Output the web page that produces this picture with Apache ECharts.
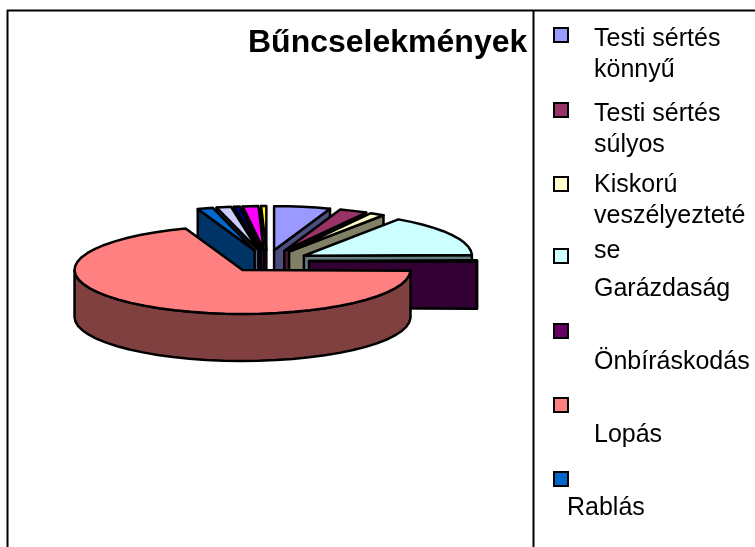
<!DOCTYPE html>
<html>
<head>
<meta charset="utf-8">
<style>html,body{margin:0;padding:0;background:#fff}#chart{width:755px;height:547px}</style>
<script src="https://cdn.jsdelivr.net/npm/echarts@6/dist/echarts.min.js"></script>
</head>
<body>
<div id="chart"></div>
<script>
// share of each slice in percent, clockwise from 12 o'clock
const categories = ['Testi sértés könnyű', 'Testi sértés súlyos', 'Kiskorú veszélyeztetése', 'Garázdaság',
  'Önbíráskodás', 'Lopás', 'Rablás', 'Egyéb 1', 'Egyéb 2', 'Egyéb 3', 'Egyéb 4'];
const values = [5.4, 2.7, 1.4, 15.2, 0.6, 69.2, 1.5, 1.4, 0.6, 1.5, 0.5];
const colors = ['#9999FF', '#993366', '#FFFFCC', '#CCFFFF', '#660066', '#FF8080', '#0066CC',
  '#CCCCFF', '#000080', '#FF00FF', '#FFFF00'];
// the last four slices fall off the bottom of the legend in the original
const legendLines = [['Testi sértés', 'könnyű'], ['Testi sértés', 'súlyos'], ['Kiskorú', 'veszélyezteté', 'se'],
  ['Garázdaság'], ['Önbíráskodás'], ['Lopás'], ['Rablás']];

// pie geometry
const CX = 267, CY = 261, RX = 168, RY = 44, DEPTH = 47, EXPLODE = 42;
const STEP = 6; // arc segment in degrees, the original is a coarse polygon too

// legend layout: marker top, baseline of each text line, text left
const legendMarkerTop = [27, 102, 176, 248, 323, 397, 471];
const legendBaseline = [[46, 77], [121, 152], [192, 223, 258], [296], [369], [442], [515]];
const legendTextLeft = [594, 594, 594, 594, 594, 594, 567];

const total = values.reduce((a, b) => a + b, 0);
let acc = 0;
const slices = values.map((v, i) => {
  const a0 = acc / total * 360;
  acc += v;
  return { i, a0, a1: acc / total * 360 };
});

function shade(hex) {
  const n = parseInt(hex.slice(1), 16);
  const c = [n >> 16, (n >> 8) & 255, n & 255].map(x => Math.round(x / 2));
  return `rgb(${c[0]},${c[1]},${c[2]})`;
}

function renderSlice(s) {
  const mid = (s.a0 + s.a1) / 2 * Math.PI / 180;
  const ox = CX + EXPLODE * Math.sin(mid);
  const oy = CY - EXPLODE * Math.cos(mid) * RY / RX;
  const pt = (deg, dz) => {
    const t = deg * Math.PI / 180;
    return [ox + RX * Math.sin(t), oy - RY * Math.cos(t) + dz];
  };
  const arc = (from, to, dz) => {
    const pts = [];
    const n = Math.max(1, Math.ceil((to - from) / STEP));
    for (let k = 0; k <= n; k++) pts.push(pt(from + (to - from) * k / n, dz));
    return pts;
  };
  const style = fill => ({ fill, stroke: '#000', lineWidth: 2.5, lineJoin: 'round' });
  const poly = (points, fill) => ({ type: 'polygon', shape: { points }, style: style(fill) });
  const top = colors[s.i], wall = shade(top);
  const apex = [ox, oy], apexLow = [ox, oy + DEPTH];
  const children = [];
  // cut faces, only the ones turned towards the viewer
  if (s.a0 > 180) {
    const p = pt(s.a0, 0);
    children.push(poly([apex, p, [p[0], p[1] + DEPTH], apexLow], wall));
  }
  if (s.a1 < 180) {
    const p = pt(s.a1, 0);
    children.push(poly([apex, p, [p[0], p[1] + DEPTH], apexLow], wall));
  }
  // rim: front half of the circle only
  const from = Math.max(s.a0, 90), to = Math.min(s.a1, 270);
  if (to > from) {
    const upper = arc(from, to, 0), lower = arc(from, to, DEPTH).reverse();
    children.push(poly(upper.concat(lower), wall));
  }
  children.push(poly([apex].concat(arc(s.a0, s.a1, 0)), top));
  return { type: 'group', children };
}

// back to front: the further a slice is from the viewer the earlier it is drawn
const drawOrder = slices.slice().sort((p, q) =>
  Math.abs((q.a0 + q.a1) / 2 - 180) - Math.abs((p.a0 + p.a1) / 2 - 180));

const series = drawOrder.map((s, order) => ({
  name: categories[s.i],
  type: 'custom',
  coordinateSystem: 'none',
  silent: true,
  z: 2 + order,
  itemStyle: { color: colors[s.i] },
  data: [values[s.i]],
  renderItem: () => renderSlice(s),
}));

const legends = legendLines.map((_, i) => ({
  left: 553,
  top: legendMarkerTop[i],
  padding: 0,
  icon: 'rect',
  itemWidth: 14,
  itemHeight: 14,
  selectedMode: false,
  itemStyle: { borderColor: '#000', borderWidth: 2 },
  formatter: () => '',
  data: [categories[i]],
}));

const graphic = [
  { type: 'line', shape: { x1: 7, y1: 10.5, x2: 755, y2: 10.5 }, style: { stroke: '#000', lineWidth: 2 } },
  { type: 'line', shape: { x1: 7.5, y1: 10, x2: 7.5, y2: 547 }, style: { stroke: '#000', lineWidth: 2 } },
  { type: 'line', shape: { x1: 533.5, y1: 10, x2: 533.5, y2: 547 }, style: { stroke: '#000', lineWidth: 2 } },
];
legendLines.forEach((lines, i) => lines.forEach((text, j) => {
  graphic.push({
    type: 'text',
    x: legendTextLeft[i],
    y: legendBaseline[i][j] - 7,
    style: { text, fill: '#000', fontSize: 25, fontFamily: '"Liberation Sans", Arial, sans-serif', align: 'left', verticalAlign: 'middle' },
  });
}));

const chart = echarts.init(document.getElementById('chart'), null, { renderer: 'canvas' });
chart.setOption({
  animation: false,
  backgroundColor: '#fff',
  title: {
    text: 'Bűncselekmények',
    left: 248,
    top: 27,
    padding: 0,
    textStyle: { color: '#000', fontSize: 32, fontWeight: 'bold', fontFamily: '"Liberation Sans", Arial, sans-serif' },
  },
  legend: legends,
  graphic,
  series,
});
</script>
</body>
</html>
